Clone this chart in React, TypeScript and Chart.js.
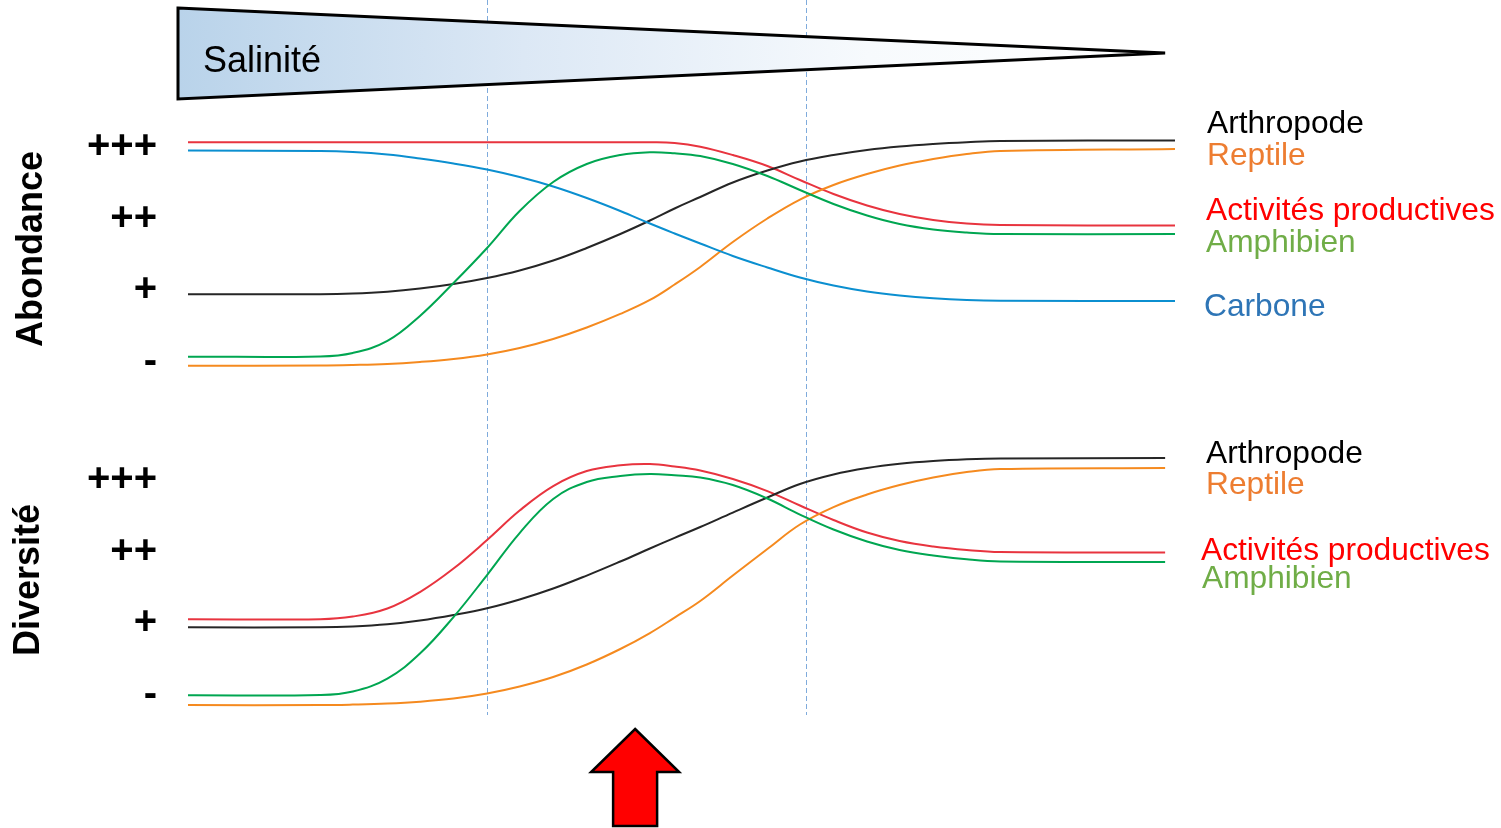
import React, { useEffect, useRef } from "react";
import { Chart, registerables } from "chart.js";

Chart.register(...registerables);

const FONT = "'Liberation Sans', Arial, Helvetica, sans-serif";

// ---- Data -------------------------------------------------------------
const levelLabels = ["-", "+", "++", "+++"];
const levelValues = [0, 1, 2, 3];

// position along the salinity gradient (0 = left, 100 = right)
const xTop = [0, 13.4, 16.7, 20.2, 23.5, 26.9, 30.3, 33.6, 37.0, 40.4, 43.8, 46.8, 49.3, 51.9, 55.2, 58.7, 62.0, 65.4, 68.8, 72.1, 75.5, 78.9, 82.3, 100];
const xBottom = [0, 13.4, 16.7, 20.2, 23.5, 26.9, 30.3, 33.6, 37.0, 40.4, 43.8, 46.8, 49.3, 51.9, 55.2, 58.7, 62.0, 65.4, 68.8, 72.1, 75.5, 78.9, 82.3, 99];

const zoneBounds = [30.3, 62.6];
const arrowPosition = 45.3;

// Abondance
const abArthropode = [0.945, 0.945, 0.954, 0.98, 1.024, 1.088, 1.172, 1.277, 1.416, 1.591, 1.786, 1.974, 2.142, 2.302, 2.505, 2.672, 2.798, 2.888, 2.958, 3.007, 3.042, 3.067, 3.084, 3.091];
const abReptile = [-0.052, -0.049, -0.042, -0.028, 0.0, 0.042, 0.105, 0.195, 0.321, 0.481, 0.67, 0.865, 1.081, 1.326, 1.674, 2.002, 2.267, 2.47, 2.623, 2.742, 2.832, 2.902, 2.944, 2.972];
const abActivites = [3.066, 3.066, 3.066, 3.066, 3.066, 3.066, 3.066, 3.066, 3.066, 3.066, 3.066, 3.066, 3.056, 3.004, 2.888, 2.735, 2.539, 2.344, 2.184, 2.065, 1.981, 1.932, 1.912, 1.905];
const abAmphibien = [0.074, 0.077, 0.126, 0.293, 0.642, 1.102, 1.591, 2.107, 2.512, 2.763, 2.888, 2.926, 2.912, 2.874, 2.763, 2.595, 2.4, 2.205, 2.044, 1.925, 1.849, 1.807, 1.786, 1.786];
const abCarbone = [2.951, 2.944, 2.93, 2.895, 2.839, 2.77, 2.686, 2.581, 2.449, 2.288, 2.107, 1.932, 1.793, 1.653, 1.479, 1.319, 1.179, 1.067, 0.984, 0.928, 0.889, 0.865, 0.855, 0.851];

// Diversité
const dvArthropode = [0.945, 0.945, 0.956, 0.986, 1.039, 1.116, 1.21, 1.333, 1.486, 1.667, 1.863, 2.044, 2.193, 2.344, 2.546, 2.756, 2.944, 3.077, 3.167, 3.226, 3.265, 3.289, 3.301, 3.307];
const dvReptile = [-0.14, -0.14, -0.133, -0.119, -0.093, -0.049, 0.021, 0.119, 0.251, 0.426, 0.642, 0.865, 1.081, 1.312, 1.667, 2.037, 2.379, 2.623, 2.798, 2.93, 3.035, 3.111, 3.153, 3.167];
const dvActivites = [1.056, 1.058, 1.095, 1.207, 1.437, 1.765, 2.163, 2.574, 2.916, 3.125, 3.205, 3.223, 3.188, 3.132, 3.014, 2.846, 2.644, 2.442, 2.267, 2.149, 2.072, 2.023, 1.995, 1.988];
const dvAmphibien = [-0.004, 0.0, 0.049, 0.23, 0.579, 1.088, 1.674, 2.26, 2.735, 2.972, 3.056, 3.084, 3.065, 3.035, 2.93, 2.742, 2.518, 2.309, 2.142, 2.023, 1.946, 1.893, 1.863, 1.856];

// ---- Styles -------------------------------------------------------------
const LINE = {
  arthropode: "#262626",
  reptile: "#f58a1f",
  activites: "#e8343f",
  amphibien: "#00a651",
  carbone: "#0b8fd0",
};
const TEXT = {
  arthropode: "#000000",
  reptile: "#ed7d31",
  activites: "#ff0000",
  amphibien: "#70ad47",
  carbone: "#2e75b6",
};

type Series = { label: string; values: number[]; color: string };
type Label = { text: string; color: string; x: number; y: number };

const topLabels: Label[] = [
  { text: "Arthropode", color: TEXT.arthropode, x: 1207, y: 133 },
  { text: "Reptile", color: TEXT.reptile, x: 1207, y: 165 },
  { text: "Activités productives", color: TEXT.activites, x: 1206, y: 220 },
  { text: "Amphibien", color: TEXT.amphibien, x: 1206, y: 252 },
  { text: "Carbone", color: TEXT.carbone, x: 1204, y: 316 },
];
const bottomLabels: Label[] = [
  { text: "Arthropode", color: TEXT.arthropode, x: 1206, y: 463 },
  { text: "Reptile", color: TEXT.reptile, x: 1206, y: 494 },
  { text: "Activités productives", color: TEXT.activites, x: 1201, y: 560 },
  { text: "Amphibien", color: TEXT.amphibien, x: 1202, y: 588 },
];

const TOP_H = 400;
const BOT_H = 428;

function drawDashed(chart: any, y0: number, y1: number) {
  const { ctx } = chart;
  const xs = chart.scales.x;
  ctx.save();
  ctx.strokeStyle = "#7fabdc";
  ctx.lineWidth = 1;
  ctx.setLineDash([5, 3]);
  zoneBounds.forEach((v) => {
    const px = Math.round(xs.getPixelForValue(v)) + 0.5;
    ctx.beginPath();
    ctx.moveTo(px, y0);
    ctx.lineTo(px, y1);
    ctx.stroke();
  });
  ctx.restore();
}

function drawLabels(chart: any, labels: Label[], offsetY: number) {
  const { ctx } = chart;
  ctx.save();
  ctx.font = `31.7px ${FONT}`;
  ctx.textAlign = "left";
  ctx.textBaseline = "alphabetic";
  labels.forEach((l) => {
    ctx.fillStyle = l.color;
    ctx.fillText(l.text, l.x, l.y - offsetY);
  });
  ctx.restore();
}

const topDecor = {
  id: "topDecor",
  beforeDraw(chart: any) {
    drawDashed(chart, 0, TOP_H);
    const { ctx } = chart;
    const left = chart.chartArea.left - 10;
    const tipX = chart.scales.x.getPixelForValue(99);
    ctx.save();
    const g = ctx.createLinearGradient(left, 0, tipX, 0);
    g.addColorStop(0, "#b9d3ea");
    g.addColorStop(0.35, "#dce8f5");
    g.addColorStop(0.7, "#f7fafd");
    g.addColorStop(1, "#ffffff");
    ctx.beginPath();
    ctx.moveTo(left, 8);
    ctx.lineTo(tipX, 53);
    ctx.lineTo(left, 99);
    ctx.closePath();
    ctx.fillStyle = g;
    ctx.fill();
    ctx.lineWidth = 3;
    ctx.lineJoin = "miter";
    ctx.strokeStyle = "#000";
    ctx.stroke();
    ctx.fillStyle = "#000";
    ctx.font = `36px ${FONT}`;
    ctx.textBaseline = "alphabetic";
    ctx.fillText("Salinité", 203, 72);
    ctx.restore();
  },
  afterDraw(chart: any) {
    drawLabels(chart, topLabels, 0);
  },
};

const bottomDecor = {
  id: "bottomDecor",
  beforeDraw(chart: any) {
    drawDashed(chart, 0, 315);
  },
  afterDraw(chart: any) {
    drawLabels(chart, bottomLabels, TOP_H);
    const { ctx } = chart;
    const cx = chart.scales.x.getPixelForValue(arrowPosition);
    const tip = 729 - TOP_H;
    const base = 772 - TOP_H;
    const bottom = 826 - TOP_H;
    ctx.save();
    ctx.beginPath();
    ctx.moveTo(cx, tip);
    ctx.lineTo(cx + 44, base);
    ctx.lineTo(cx + 22, base);
    ctx.lineTo(cx + 22, bottom);
    ctx.lineTo(cx - 22, bottom);
    ctx.lineTo(cx - 22, base);
    ctx.lineTo(cx - 44, base);
    ctx.closePath();
    ctx.fillStyle = "#ff0000";
    ctx.fill();
    ctx.lineWidth = 2.5;
    ctx.lineJoin = "miter";
    ctx.strokeStyle = "#000";
    ctx.stroke();
    ctx.restore();
  },
};

function buildConfig(
  xs: number[],
  series: Series[],
  title: string,
  yMin: number,
  yMax: number,
  padTop: number,
  padBottom: number,
  titlePad: number,
  plugin: any
): any {
  return {
    type: "line",
    data: {
      datasets: series.map((s) => ({
        label: s.label,
        data: xs.map((x, i) => ({ x, y: s.values[i] })),
        borderColor: s.color,
        backgroundColor: s.color,
        borderWidth: 2,
        pointRadius: 0,
        tension: 0.4,
        fill: false,
      })),
    },
    options: {
      responsive: false,
      animation: false,
      events: [],
      layout: { padding: { top: padTop, bottom: padBottom, left: 0, right: 326 } },
      plugins: { legend: { display: false }, tooltip: { enabled: false } },
      scales: {
        x: { type: "linear", min: 0, max: 100, display: false },
        y: {
          type: "linear",
          min: yMin,
          max: yMax,
          afterFit: (s: any) => {
            s.width = 188;
            s.paddingTop = 0;
            s.paddingBottom = 0;
            s.paddingLeft = 0;
            s.paddingRight = 0;
          },
          afterBuildTicks: (s: any) => {
            s.ticks = levelValues.map((v) => ({ value: v }));
          },
          grid: { display: false, drawTicks: false },
          border: { display: false },
          ticks: {
            padding: 31,
            color: "#000",
            autoSkip: false,
            font: { family: FONT, size: 40, weight: "bold" },
            callback: (v: any) => levelLabels[Math.round(Number(v))],
          },
          title: {
            display: true,
            text: title,
            color: "#000",
            font: { family: FONT, size: 36, weight: "bold" },
            padding: { top: titlePad, bottom: 0 },
          },
        },
      },
    },
    plugins: [plugin],
  };
}

export default function App() {
  const topRef = useRef<HTMLCanvasElement>(null);
  const botRef = useRef<HTMLCanvasElement>(null);

  useEffect(() => {
    Chart.defaults.font.family = FONT;
    const topSeries: Series[] = [
      { label: "Amphibien", values: abAmphibien, color: LINE.amphibien },
      { label: "Carbone", values: abCarbone, color: LINE.carbone },
      { label: "Reptile", values: abReptile, color: LINE.reptile },
      { label: "Arthropode", values: abArthropode, color: LINE.arthropode },
      { label: "Activités productives", values: abActivites, color: LINE.activites },
    ];
    const botSeries: Series[] = [
      { label: "Amphibien", values: dvAmphibien, color: LINE.amphibien },
      { label: "Reptile", values: dvReptile, color: LINE.reptile },
      { label: "Arthropode", values: dvArthropode, color: LINE.arthropode },
      { label: "Activités productives", values: dvActivites, color: LINE.activites },
    ];
    const c1 = new Chart(
      topRef.current as HTMLCanvasElement,
      buildConfig(xTop, topSeries, "Abondance", -0.2, 3.353, 121.7, TOP_H - 376.3, 10, topDecor)
    );
    const c2 = new Chart(
      botRef.current as HTMLCanvasElement,
      buildConfig(xBottom, botSeries, "Diversité", -0.22, 3.43, 449.2 - TOP_H, TOP_H + BOT_H - 710.8, 7, bottomDecor)
    );
    return () => {
      c1.destroy();
      c2.destroy();
    };
  }, []);

  return (
    <div
      style={{
        position: "fixed",
        left: 0,
        top: 0,
        width: 1501,
        height: 828,
        background: "#ffffff",
        overflow: "hidden",
      }}
    >
      <canvas
        ref={topRef}
        width={1501}
        height={TOP_H}
        style={{ position: "absolute", left: 0, top: 0, width: 1501, height: TOP_H, display: "block" }}
      />
      <canvas
        ref={botRef}
        width={1501}
        height={BOT_H}
        style={{ position: "absolute", left: 0, top: TOP_H, width: 1501, height: BOT_H, display: "block" }}
      />
    </div>
  );
}
